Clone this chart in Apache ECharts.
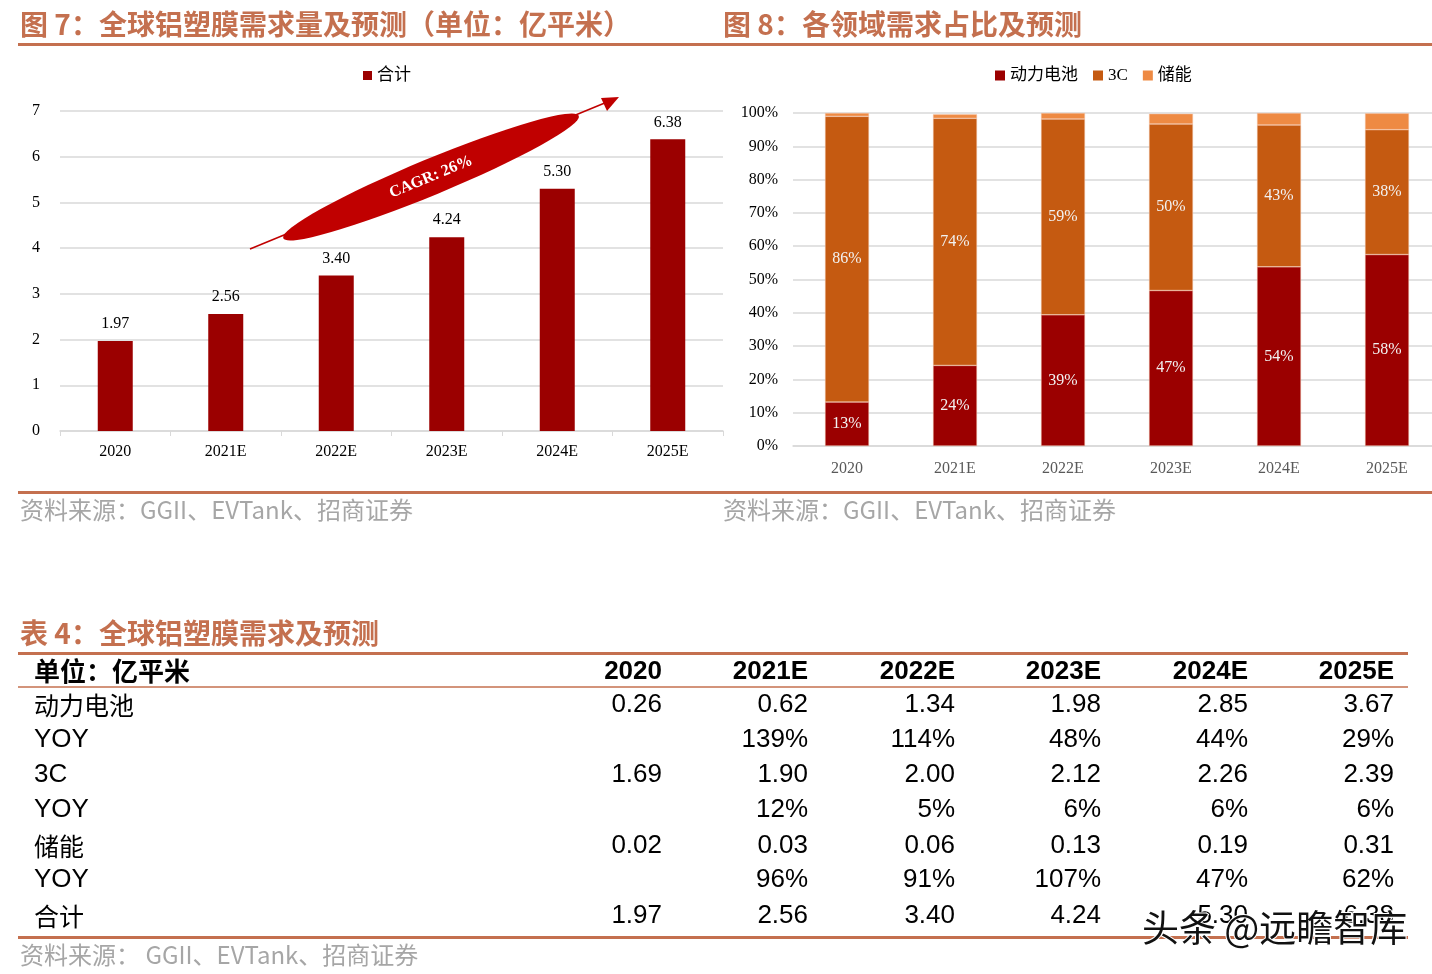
<!DOCTYPE html>
<html><head><meta charset="utf-8">
<script src="https://cdn.jsdelivr.net/npm/echarts@6/dist/echarts.min.js"></script>
<style>html,body{margin:0;padding:0;background:#fff;overflow:hidden}#c{width:1432px;height:974px}</style>
</head><body><div id="c"></div>
<script>
// ---- data ----
const categories = ['2020','2021E','2022E','2023E','2024E','2025E'];
const totalDemand = [1.97, 2.56, 3.40, 4.24, 5.30, 6.38];
const sharePower = [13.2, 24.2, 39.4, 46.7, 53.8, 57.5];
const share3C = [85.8, 74.2, 58.8, 50.0, 42.6, 37.5];
const shareStorage = [1.0, 1.2, 1.8, 3.1, 3.6, 4.9];
const tableRowLabels = ['动力电池','YOY','3C','YOY','储能','YOY','合计'];
const rowPower = ['0.26','0.62','1.34','1.98','2.85','3.67'];
const rowPowerYoy = ['','139%','114%','48%','44%','29%'];
const row3C = ['1.69','1.90','2.00','2.12','2.26','2.39'];
const row3CYoy = ['','12%','5%','6%','6%','6%'];
const rowStorage = ['0.02','0.03','0.06','0.13','0.19','0.31'];
const rowStorageYoy = ['','96%','91%','107%','47%','62%'];
const rowTotal = ['1.97','2.56','3.40','4.24','5.30','6.38'];
const yTicks1 = [0,1,2,3,4,5,6,7];

// ---- styles ----
const TERRA = '#c4704f';
const SERIF = '"Liberation Serif","Times New Roman",serif';
const CJK = '"Noto Sans CJK SC","Noto Sans",sans-serif';
const SERIF_CJK = '"Liberation Serif","Noto Sans CJK SC",serif';
const ARIAL = '"Liberation Sans",Arial,sans-serif';
const C_POWER = '#9b0000', C_3C = '#c55a11', C_STOR = '#ee8a43';

const chart = echarts.init(document.getElementById('c'));
const g = [];
function txt(x, y, text, o, z) {
  g.push({type:'text', x:x, y:y, z:z||10, style:Object.assign({text:text, fill:'#000', font:'20px '+CJK, textVerticalAlign:'middle'}, o||{})});
}
function line(x1,y1,x2,y2,w,c,z){ g.push({type:'line', z:z||10, shape:{x1:x1,y1:y1,x2:x2,y2:y2}, style:{stroke:c||TERRA, lineWidth:w}}); }

// titles and rules
txt(20, 24, '图 7：全球铝塑膜需求量及预测（单位：亿平米）', {fill:TERRA, font:'bold 28px '+CJK});
txt(723, 24, '图 8：各领域需求占比及预测', {fill:TERRA, font:'bold 28px '+CJK});
line(18, 44.5, 1432, 44.5, 3);
line(18, 492.5, 1432, 492.5, 3);
txt(20, 510, '资料来源：GGII、EVTank、招商证券', {fill:'#a6a6a6', font:'24px '+CJK});
txt(723, 510, '资料来源：GGII、EVTank、招商证券', {fill:'#a6a6a6', font:'24px '+CJK});

// table
txt(20, 633, '表 4：全球铝塑膜需求及预测', {fill:TERRA, font:'bold 28px '+CJK});
line(18, 653.5, 1408, 653.5, 3);
line(18, 687, 1408, 687, 1.5);
line(18, 937.5, 1408, 937.5, 3);
txt(20, 955, '资料来源： GGII、EVTank、招商证券', {fill:'#a6a6a6', font:'24px '+CJK});
txt(34, 671, '单位：亿平米', {font:'bold 26px '+CJK});
const colRight = [662, 808, 955, 1101, 1248, 1394];
categories.forEach((c,i)=> txt(colRight[i], 672, c, {font:'bold 26px '+ARIAL, textAlign:'right'}));
const tableRows = [rowPower,rowPowerYoy,row3C,row3CYoy,rowStorage,rowStorageYoy,rowTotal];
const rowY = [705, 740, 775, 810, 846, 880, 916];
tableRowLabels.forEach((lab,r)=>{
  const isCJK = /[\u4e00-\u9fff]/.test(lab);
  txt(34, rowY[r], lab, {font: isCJK ? '25px '+CJK : '26px '+ARIAL});
  tableRows[r].forEach((v,i)=>{ if(v) txt(colRight[i], rowY[r], v, {font:'26px '+ARIAL, textAlign:'right'}); });
});

// CAGR annotation
line(250, 249, 612, 100, 1.5, '#c00000', 100);
g.push({type:'polygon', z:100, shape:{points:[[619,97],[601,98],[607,111]]}, style:{fill:'#c00000'}});
g.push({type:'circle', z:101, x:431, y:177, rotation:22.5*Math.PI/180, scaleX:160, scaleY:18, shape:{cx:0,cy:0,r:1}, style:{fill:'#c00000'}});
g.push({type:'text', z:102, x:431, y:177, rotation:22.5*Math.PI/180, style:{text:'CAGR: 26%', fill:'#fff', font:'bold 16px '+SERIF, textAlign:'center', textVerticalAlign:'middle'}});

// watermark
g.push({type:'text', x:1142, y:928, z:200, style:{text:'头条 @远瞻智库', fill:'#111', stroke:'#fff', lineWidth:2, font:'37px '+CJK, textVerticalAlign:'middle'}});

const option = {
  animation:false,
  backgroundColor:'#fff',
  legend:[
    {data:['合计'], left:358, top:62, itemWidth:9, itemHeight:9, itemGap:10, icon:'rect', textStyle:{fontSize:17, fontFamily:SERIF_CJK, color:'#000'}},
    {data:['动力电池','3C','储能'], left:990, top:62, itemWidth:10, itemHeight:10, itemGap:15, itemStyle:{borderWidth:0}, icon:'rect', textStyle:{fontSize:17, fontFamily:SERIF_CJK, color:'#000'}}
  ],
  grid:[
    {left:60, top:111, width:663, height:320, outerBoundsMode:'none'},
    {left:793, top:113, width:648, height:333, outerBoundsMode:'none'}
  ],
  xAxis:[
    {type:'category', gridIndex:0, data:categories, axisLine:{lineStyle:{color:'#d9d9d9', width:1.5}}, axisTick:{show:true, lineStyle:{color:'#d9d9d9'}, length:5},
     axisLabel:{fontFamily:SERIF, fontSize:16, color:'#000', margin:13}},
    {type:'category', gridIndex:1, data:categories, axisLine:{lineStyle:{color:'#d9d9d9', width:1.5}}, axisTick:{show:false},
     axisLabel:{fontFamily:SERIF, fontSize:16, color:'#595959', margin:15}}
  ],
  yAxis:[
    {type:'value', gridIndex:0, min:yTicks1[0], max:yTicks1[yTicks1.length-1], interval:1, axisLine:{show:false}, axisTick:{show:false},
     splitLine:{lineStyle:{color:'#d9d9d9', width:1.5}}, axisLabel:{fontFamily:SERIF, fontSize:16, color:'#000', margin:20}},
    {type:'value', gridIndex:1, min:0, max:100, interval:10, axisLine:{show:false}, axisTick:{show:false},
     splitLine:{lineStyle:{color:'#d9d9d9', width:1.5}}, axisLabel:{fontFamily:SERIF, fontSize:16, color:'#000', margin:15, formatter:'{value}%'}}
  ],
  series:[
    {name:'合计', type:'bar', xAxisIndex:0, yAxisIndex:0, data:totalDemand, barWidth:35, itemStyle:{color:C_POWER},
     label:{show:true, position:'top', distance:9, fontFamily:SERIF, fontSize:16, color:'#000', formatter:p=>p.value.toFixed(2)}},
    {name:'动力电池', type:'bar', stack:'s', xAxisIndex:1, yAxisIndex:1, data:sharePower, barWidth:44, itemStyle:{color:C_POWER, borderColor:'#f4c9b0', borderWidth:0.5},
     label:{show:true, position:'inside', fontFamily:SERIF, fontSize:16, color:'#f2f2f2', formatter:p=>Math.round(p.value)+'%'}},
    {name:'3C', type:'bar', stack:'s', xAxisIndex:1, yAxisIndex:1, data:share3C, barWidth:44, itemStyle:{color:C_3C, borderColor:'#f4c9b0', borderWidth:0.5},
     label:{show:true, position:'inside', fontFamily:SERIF, fontSize:16, color:'#f2f2f2', formatter:p=>Math.round(p.value)+'%'}},
    {name:'储能', type:'bar', stack:'s', xAxisIndex:1, yAxisIndex:1, data:shareStorage, barWidth:44, itemStyle:{color:C_STOR, borderColor:'#f4c9b0', borderWidth:0.5}}
  ],
  graphic:{elements:g}
};
chart.setOption(option);
</script></body></html>
